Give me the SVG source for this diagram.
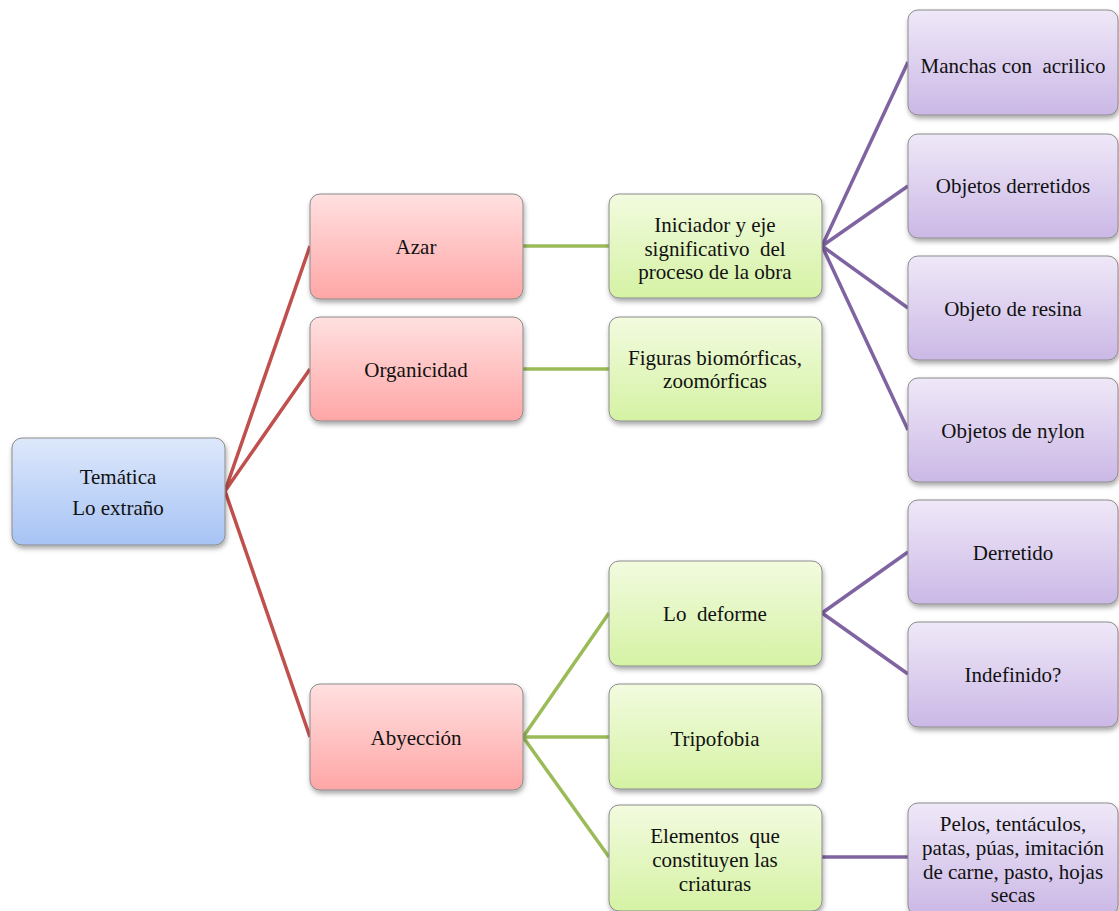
<svg xmlns="http://www.w3.org/2000/svg" width="1119" height="911" viewBox="0 0 1119 911">
<defs>
<linearGradient id="gb" x1="0" y1="0" x2="0" y2="1"><stop offset="0" stop-color="#DDE8FB"/><stop offset="1" stop-color="#A7C3F5"/></linearGradient>
<linearGradient id="gr" x1="0" y1="0" x2="0" y2="1"><stop offset="0" stop-color="#FFE0E0"/><stop offset="1" stop-color="#FFA6A6"/></linearGradient>
<linearGradient id="gg" x1="0" y1="0" x2="0" y2="1"><stop offset="0" stop-color="#F2FBDF"/><stop offset="1" stop-color="#D5F2A4"/></linearGradient>
<linearGradient id="gp" x1="0" y1="0" x2="0" y2="1"><stop offset="0" stop-color="#EFE8F8"/><stop offset="1" stop-color="#CBB8E6"/></linearGradient>
<filter id="sh" x="-10%" y="-10%" width="125%" height="130%"><feDropShadow dx="1" dy="3" stdDeviation="2.5" flood-color="#000" flood-opacity="0.35"/></filter>
</defs>
<style>
.n{stroke:#8C8C8C;stroke-width:1;filter:url(#sh)}
.b{fill:url(#gb)}.r{fill:url(#gr)}.g{fill:url(#gg)}.p{fill:url(#gp)}
.t{font-family:'Liberation Serif','Times New Roman',serif;font-size:21px;fill:#111;text-anchor:middle}
.cr{stroke:#C0504D;stroke-width:3.5;fill:none}
.cg{stroke:#9BBB59;stroke-width:3.5;fill:none}
.cp{stroke:#8064A2;stroke-width:3.5;fill:none}
</style>
<rect width="1119" height="911" fill="#fff"/>
<g id="connectors">
<path class="cr" d="M225 491 L310 246 M225 491 L310 369 M225 491 L310 737"/>
<path class="cg" d="M523 246 L609 246 M523 369 L609 369 M523 737 L609 613 M523 737 L609 737 M523 737 L609 857"/>
<path class="cp" d="M822 246 L908 62 M822 246 L908 186 M822 246 L908 308 M822 246 L908 430 M822 613 L908 552 M822 613 L908 674 M822 857 L908 857"/>
</g>
<g class="t">
<g id="root"><rect class="n b" x="12" y="438" width="213" height="107" rx="10"/><text x="118" y="484">Temática</text><text x="118" y="515">Lo extraño</text></g>
<g id="azar"><rect class="n r" x="310" y="194" width="213" height="105" rx="10"/><text x="416" y="254">Azar</text></g>
<g id="organicidad"><rect class="n r" x="310" y="317" width="213" height="104" rx="10"/><text x="416" y="377">Organicidad</text></g>
<g id="abyeccion"><rect class="n r" x="310" y="684" width="213" height="106" rx="10"/><text x="416" y="745">Abyección</text></g>
<g id="iniciador"><rect class="n g" x="609" y="194" width="213" height="104" rx="10"/><text x="715" y="232">Iniciador y eje</text><text x="715" y="256" xml:space="preserve">significativo  del</text><text x="715" y="279">proceso de la obra</text></g>
<g id="figuras"><rect class="n g" x="609" y="317" width="213" height="104" rx="10"/><text x="715" y="365">Figuras biomórficas,</text><text x="715" y="388">zoomórficas</text></g>
<g id="deforme"><rect class="n g" x="609" y="561" width="213" height="105" rx="10"/><text x="715" y="621" xml:space="preserve">Lo  deforme</text></g>
<g id="tripofobia"><rect class="n g" x="609" y="684" width="213" height="105" rx="10"/><text x="715" y="746">Tripofobia</text></g>
<g id="elementos"><rect class="n g" x="609" y="805" width="213" height="106" rx="10"/><text x="715" y="843" xml:space="preserve">Elementos  que</text><text x="715" y="867">constituyen las</text><text x="715" y="891">criaturas</text></g>
<g id="manchas"><rect class="n p" x="908" y="10" width="210" height="105" rx="10"/><text x="1013" y="73" xml:space="preserve">Manchas con  acrilico</text></g>
<g id="derretidos"><rect class="n p" x="908" y="134" width="210" height="104" rx="10"/><text x="1013" y="193">Objetos derretidos</text></g>
<g id="resina"><rect class="n p" x="908" y="256" width="210" height="104" rx="10"/><text x="1013" y="316">Objeto de resina</text></g>
<g id="nylon"><rect class="n p" x="908" y="378" width="210" height="104" rx="10"/><text x="1013" y="438">Objetos de nylon</text></g>
<g id="derretido"><rect class="n p" x="908" y="500" width="210" height="104" rx="10"/><text x="1013" y="560">Derretido</text></g>
<g id="indefinido"><rect class="n p" x="908" y="622" width="210" height="105" rx="10"/><text x="1013" y="682">Indefinido?</text></g>
<g id="pelos"><rect class="n p" x="908" y="803" width="210" height="112" rx="10"/><text x="1013" y="831">Pelos, tentáculos,</text><text x="1013" y="855">patas, púas, imitación</text><text x="1013" y="879">de carne, pasto, hojas</text><text x="1013" y="902">secas</text></g>
</g>
</svg>
